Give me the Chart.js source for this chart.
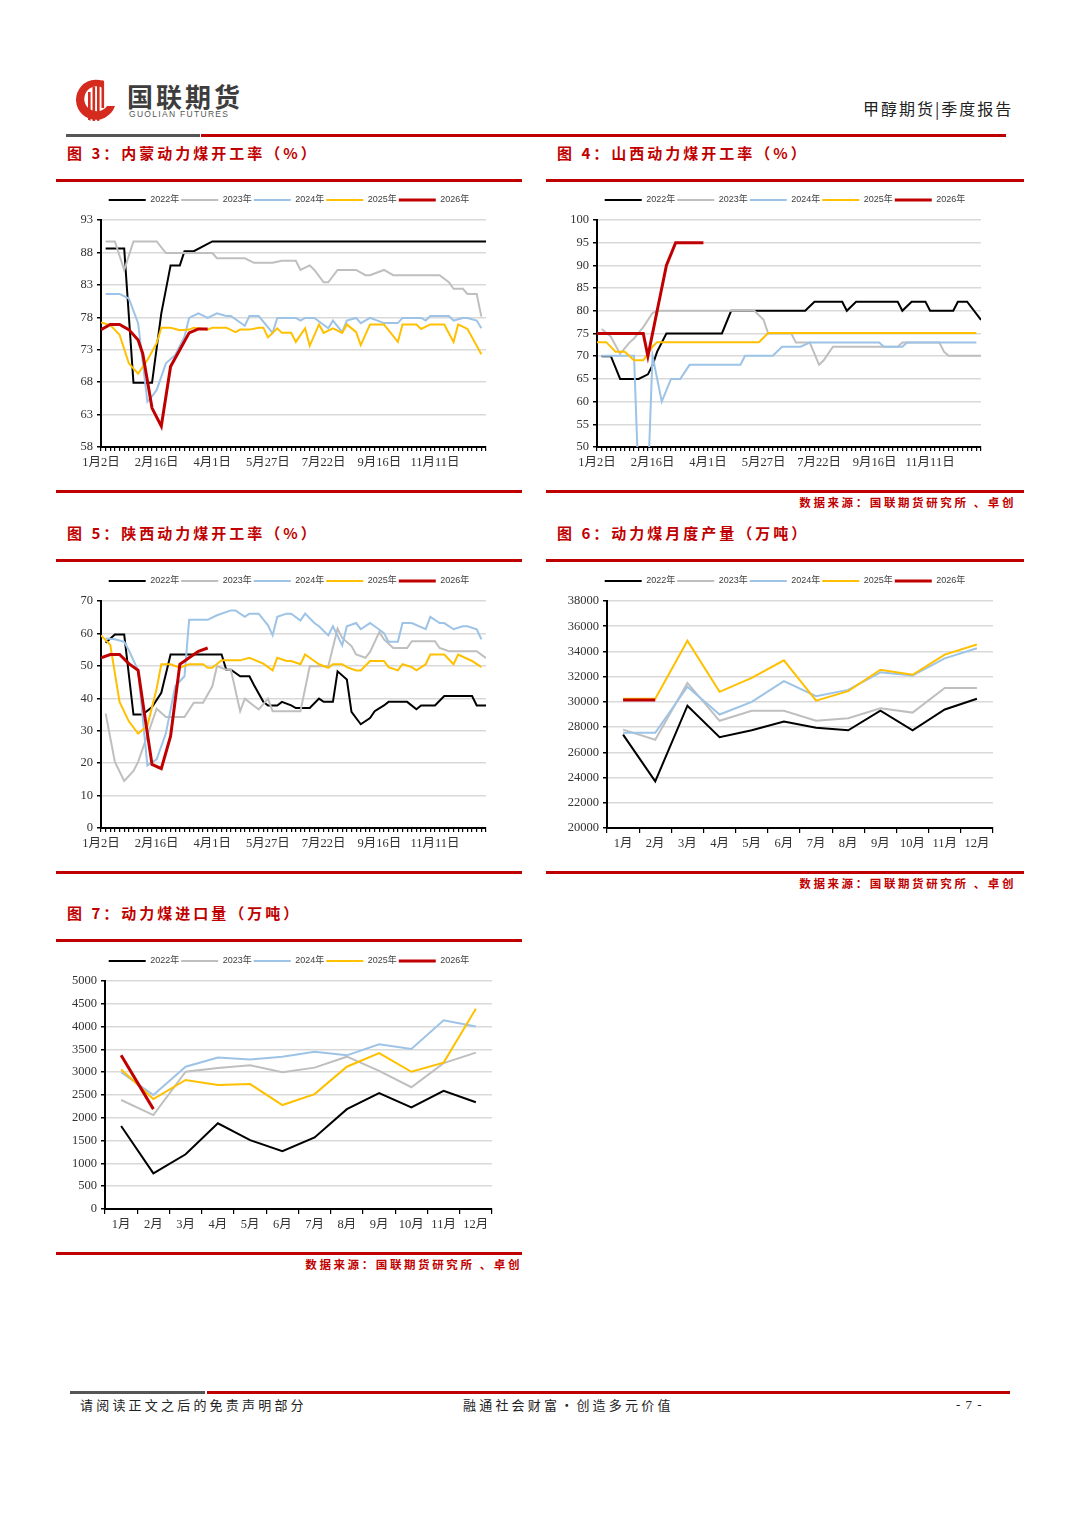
<!DOCTYPE html>
<html lang="zh">
<head>
<meta charset="utf-8">
<title>动力煤开工率与产量</title>
<script src="https://cdn.jsdelivr.net/npm/chart.js@4.4.1/dist/chart.umd.min.js"></script>
<style>
  body { margin: 0; width: 1080px; height: 1528px; background: #fff; position: relative; overflow: hidden;
         font-family: "Noto Sans CJK SC", sans-serif; }
  .abs { position: absolute; white-space: nowrap; }
  .title { position: absolute; color: #c00000; font-size: 15px; font-weight: bold; letter-spacing: 3px;
           line-height: 20px; white-space: nowrap; }
  .rule { position: absolute; height: 3px; background: #c00000; }
  .src { position: absolute; color: #c00000; font-size: 11.5px; font-weight: bold; letter-spacing: 2.6px;
         line-height: 16px; white-space: nowrap; }
  .foot { position: absolute; font-size: 13px; color: #222; letter-spacing: 3.2px; line-height: 18px; white-space: nowrap; }
  canvas { position: absolute; }
</style>
</head>
<body>

<!-- 页眉 -->
<svg class="abs" style="left:72px;top:76px" width="46" height="48" viewBox="0 0 46 48">
  <defs><clipPath id="lg"><circle cx="23" cy="24" r="21"/></clipPath></defs>
  <path d="M31 5 A20 20 0 1 0 43 30 L35 30 A12.5 12.5 0 1 1 31 12 Z" fill="#d52b1e"/>
  <g fill="#d52b1e" clip-path="url(#lg)">
    <rect x="16" y="16" width="2.6" height="30"/>
    <rect x="20.5" y="11" width="2.6" height="35"/>
    <rect x="25" y="6" width="2.6" height="40"/>
    <rect x="29.5" y="2" width="2.6" height="30"/>
  </g>
</svg>
<div class="abs" style="left:127px;top:80px;font-size:26px;font-weight:bold;color:#3d3d3d;letter-spacing:3px;line-height:32px">国联期货</div>
<div class="abs" style="left:129px;top:110px;font-family:'Liberation Sans',sans-serif;font-size:8.5px;color:#555;letter-spacing:1.3px;line-height:9px">GUOLIAN FUTURES</div>
<div class="abs" style="left:863px;top:97px;font-size:16px;color:#222;letter-spacing:2px;line-height:22px">甲醇期货|季度报告</div>
<div class="abs" style="left:66px;top:134px;width:134px;height:3px;background:#555"></div>
<div class="abs" style="left:201px;top:134px;width:805px;height:3px;background:#c00000"></div>

<!-- 第一行 -->
<div class="title" style="left:67px;top:143px">图 3：内蒙动力煤开工率（%）</div>
<div class="title" style="left:557px;top:143px">图 4：山西动力煤开工率（%）</div>
<div class="rule" style="left:56px;top:179px;width:466px"></div>
<div class="rule" style="left:546px;top:179px;width:478px"></div>
<canvas id="c3" width="466" height="290" style="left:56px;top:186px"></canvas>
<canvas id="c4" width="478" height="290" style="left:546px;top:186px"></canvas>
<div class="rule" style="left:56px;top:490px;width:466px"></div>
<div class="rule" style="left:546px;top:490px;width:478px"></div>
<div class="src" style="right:64px;top:494px">数据来源：国联期货研究所 、卓创</div>

<!-- 第二行 -->
<div class="title" style="left:67px;top:523px">图 5：陕西动力煤开工率（%）</div>
<div class="title" style="left:557px;top:523px">图 6：动力煤月度产量（万吨）</div>
<div class="rule" style="left:56px;top:559px;width:466px"></div>
<div class="rule" style="left:546px;top:559px;width:478px"></div>
<canvas id="c5" width="466" height="290" style="left:56px;top:567px"></canvas>
<canvas id="c6" width="478" height="290" style="left:546px;top:567px"></canvas>
<div class="rule" style="left:56px;top:871px;width:466px"></div>
<div class="rule" style="left:546px;top:871px;width:478px"></div>
<div class="src" style="right:64px;top:875px">数据来源：国联期货研究所 、卓创</div>

<!-- 第三行 -->
<div class="title" style="left:67px;top:903px">图 7：动力煤进口量（万吨）</div>
<div class="rule" style="left:56px;top:939px;width:466px"></div>
<canvas id="c7" width="466" height="291" style="left:56px;top:947px"></canvas>
<div class="rule" style="left:56px;top:1252px;width:466px"></div>
<div class="src" style="right:558px;top:1256px">数据来源：国联期货研究所 、卓创</div>

<!-- 页脚 -->
<div class="abs" style="left:70px;top:1391px;width:135px;height:3px;background:#555"></div>
<div class="abs" style="left:207px;top:1391px;width:803px;height:3px;background:#c00000"></div>
<div class="foot" style="left:80px;top:1396px">请阅读正文之后的免责声明部分</div>
<div class="foot" style="left:463px;top:1396px">融通社会财富·创造多元价值</div>
<div class="foot" style="left:956px;top:1396px;font-family:'Liberation Serif',serif;letter-spacing:1px">- 7 -</div>

<script>
const years = ['2022年', '2023年', '2024年', '2025年', '2026年'];
const yearColors = ['#000000', '#bfbfbf', '#9dc3e6', '#ffc000', '#c00000'];
const yearWidths = [2, 2, 2, 2, 3];

// 周度图：横轴为日期序号（共84格，每12格一个标签）
const weekTicks = ['1月2日', '2月16日', '4月1日', '5月27日', '7月22日', '9月16日', '11月11日'];
const months = ['1月', '2月', '3月', '4月', '5月', '6月', '7月', '8月', '9月', '10月', '11月', '12月'];

// 图3 内蒙动力煤开工率 [日期序号, %]
const nmg2022 = [[1,88.6],[5,88.6],[7,67.9],[11,67.9],[13,78.6],[15,86.0],[17,86.0],[18,88.2],[20,88.2],[24,89.7],[83,89.7]];
const nmg2023 = [[1,89.7],[3,89.7],[5,85.3],[7,89.7],[12,89.7],[14,87.9],[24,87.9],[25,87.1],[31,87.1],[33,86.4],[37,86.4],
  [39,86.7],[42,86.7],[43,85.3],[45,86.0],[46,85.3],[48,83.4],[49,83.4],[51,85.3],[55,85.3],[57,84.5],[58,84.5],[61,85.3],
  [63,84.5],[73,84.5],[75,83.4],[76,82.4],[78,82.4],[79,81.6],[81,81.6],[82,78.1]];
const nmg2024 = [[1,81.6],[4,81.6],[6,80.9],[8,77.1],[10,65.0],[11,65.8],[12,66.8],[14,70.9],[16,72.2],[18,75.0],[19,77.9],
  [21,78.6],[23,77.9],[25,78.6],[27,78.2],[28,78.2],[31,76.7],[32,78.2],[34,78.2],[37,75.6],[38,77.9],[42,77.9],[43,77.5],
  [44,77.9],[46,77.9],[49,76.3],[50,77.5],[52,75.7],[53,77.5],[55,77.9],[56,77.1],[58,77.9],[61,77.1],[64,77.1],[65,77.9],
  [69,77.9],[70,77.5],[71,78.2],[75,78.2],[76,77.5],[78,77.9],[79,77.9],[81,77.5],[82,76.3]];
const nmg2025 = [[0,77.2],[2,76.8],[4,75.3],[6,70.9],[8,69.3],[10,71.4],[12,74.0],[13,76.4],[15,76.4],[17,76.0],[19,76.1],
  [20,76.4],[23,76.1],[24,76.4],[27,76.4],[29,75.7],[30,76.1],[32,76.1],[34,76.4],[35,76.4],[36,74.9],[38,76.3],[39,75.6],
  [41,75.6],[42,74.2],[44,76.3],[45,73.6],[47,76.9],[48,75.6],[50,76.3],[52,75.6],[53,76.9],[55,75.7],[56,73.7],[58,76.9],
  [61,76.9],[64,74.2],[65,76.9],[68,76.9],[69,76.2],[71,76.9],[74,76.9],[76,74.2],[77,76.9],[79,76.2],[80,74.9],[82,72.3]];
const nmg2026 = [[0,76.1],[2,76.9],[4,76.9],[6,76.1],[8,74.5],[9,72.4],[11,64.0],[13,61.2],[15,70.4],[17,73.0],[19,75.6],[21,76.2],[23,76.2]];

// 图4 山西动力煤开工率
const sx2022 = [[1,70],[3,70],[5,65],[9,65],[11,66],[12,68],[13,71],[15,75],[27,75],[29,80],[45,80],[47,82],[53,82],[54,80],
  [56,82],[65,82],[66,80],[68,82],[71,82],[72,80],[77,80],[78,82],[80,82],[83,78]];
const sx2023 = [[1,76],[3,74.3],[5,70.5],[7,73],[8,73.9],[10,76.4],[12,79.5],[13,80],[34,80],[36,78],[37,75],[42,75],[43,73],
  [46,73],[48,68.1],[49,69.1],[51,72.1],[65,72.1],[66,73],[74,73],[75,71],[76,70.1],[83,70.1]];
const sx2024 = [[1,70.1],[8,70.1],[9,42],[11,42],[12,70.1],[14,60],[16,65],[18,65],[20,68.1],[31,68.1],[32,70.1],[38,70.1],
  [40,72.1],[44,72.1],[46,73],[61,73],[62,72.1],[66,72.1],[67,73],[82,73]];
const sx2025 = [[0,73.1],[2,73.1],[4,71],[6,71],[8,69.1],[10,69.1],[12,72.1],[13,73.1],[35,73.1],[37,75.1],[82,75.1]];
const sx2026 = [[0,75],[10,75],[11,70],[13,80],[15,90],[17,95],[23,95]];

// 图5 陕西动力煤开工率
const shx2022 = [[1,57.1],[3,59.7],[5,59.7],[7,35],[9,35],[11,37.3],[13,41.7],[15,53.5],[26,53.5],[27,48.8],[28,48.8],[30,46.8],
  [32,46.8],[33,44],[35,38.9],[36,37.8],[38,37.8],[39,38.9],[41,37.8],[42,37],[45,37],[47,39.9],[48,38.9],[50,38.9],[51,48.3],
  [53,45.8],[54,35.8],[56,32],[58,33.9],[59,36],[61,37.8],[62,38.9],[66,38.9],[68,36.6],[69,37.8],[72,37.8],[74,40.7],[80,40.7],
  [81,37.8],[83,37.8]];
const shx2023 = [[1,35.3],[3,20.4],[5,14.5],[7,17.6],[8,20.4],[12,36.8],[14,34.2],[18,34.2],[20,38.6],[22,38.6],[24,43.7],
  [25,49.9],[27,48.8],[28,48.8],[30,36],[31,39.9],[33,37.6],[34,36.6],[36,39.9],[37,36],[43,36],[45,49.9],[49,49.9],[51,61.5],
  [52,58.6],[54,56.1],[55,53.5],[57,52.5],[58,54.3],[60,60.4],[61,58.2],[63,55.5],[66,55.5],[67,57.6],[72,57.6],[73,55.5],
  [75,54.5],[81,54.5],[83,52.4]];
const shx2024 = [[1,58.4],[3,58.2],[5,57.4],[6,54.8],[8,48.6],[10,19.3],[12,21.2],[14,29.3],[16,43.7],[18,46.8],[19,64.2],
  [23,64.2],[25,65.6],[28,67.1],[29,67.1],[31,65.1],[32,66.1],[34,66.1],[36,62.5],[37,59.4],[38,65.1],[40,66.1],[41,66.1],
  [43,64],[44,66.1],[46,63.2],[47,62.2],[49,59.4],[50,62.2],[52,56.3],[53,62.2],[55,63.2],[56,61.3],[58,63.2],[59,62.2],
  [61,60.1],[62,57.4],[64,57.4],[65,63.2],[67,63.2],[70,61.3],[71,65.1],[73,63.2],[74,63.2],[76,61.3],[78,62.2],[79,62.2],
  [81,61.3],[82,58.2]];
const shx2025 = [[0,59.4],[2,56.5],[4,38.9],[6,32.9],[8,29.1],[10,31.5],[12,43],[13,50.5],[15,50.5],[17,49.4],[19,50.5],
  [22,50.5],[23,49.4],[24,49.4],[26,51.7],[30,51.7],[32,52.5],[35,50.7],[37,48.6],[38,52.5],[40,51.5],[41,51.5],[43,50.5],
  [44,53.5],[46,51.5],[47,50.5],[49,49.4],[50,50.5],[52,50.5],[53,49.6],[55,48.6],[56,48.6],[58,51.5],[61,51.5],[62,49.6],
  [64,48.6],[65,50.5],[67,49.6],[68,48.6],[70,50.5],[71,53.5],[74,53.5],[76,50.5],[77,53.5],[80,51.5],[82,49.6]];
const shx2026 = [[0,52.5],[2,53.5],[4,53.5],[6,50.7],[8,48.6],[10,29.1],[11,19.6],[13,18.3],[15,28.3],[17,50.5],[19,52.5],[21,54.5],[23,55.5]];

// 图6 动力煤月度产量（万吨）
const prod2022 = [27400, 23700, 29700, 27200, 27750, 28450, 27950, 27750, 29300, 27750, 29400, 30250];
const prod2023 = [27800, 27000, 31500, 28500, 29300, 29300, 28500, 28700, 29500, 29150, 31100, 31100];
const prod2024 = [27550, 27550, 31200, 29000, 30000, 31650, 30450, 30950, 32350, 32100, 33450, 34250];
const prod2025 = [30250, 30250, 34850, 30800, 31900, 33300, 30100, 30850, 32550, 32150, 33750, 34550];
const prod2026 = [30150, 30150];

// 图7 动力煤进口量（万吨）
const imp2022 = [1820, 780, 1200, 1880, 1510, 1270, 1570, 2190, 2540, 2230, 2590, 2340];
const imp2023 = [2390, 2060, 3010, 3090, 3150, 3000, 3100, 3340, 3030, 2670, 3200, 3430];
const imp2024 = [3000, 2500, 3120, 3320, 3280, 3340, 3450, 3370, 3610, 3510, 4140, 4000];
const imp2025 = [3060, 2410, 2830, 2720, 2740, 2280, 2520, 3120, 3420, 3010, 3210, 4390];
const imp2026 = [3370, 2190];

const serif = '"Liberation Serif", "Noto Sans CJK SC", serif';
const sans = '"Liberation Sans", "Noto Sans CJK SC", sans-serif';

// 图例高度固定，并在整块画布上居中
const legendBand = {
    id: 'legendBand',
    afterInit(chart) {
        const legend = chart.legend;
        const fit = legend.fit;
        legend.fit = function () {
            fit.call(this);
            this.height = 26.5;
        };
    },
    afterLayout(chart) {
        chart.legend.left = 0;
        chart.legend.right = chart.width;
    }
};

function makeDatasets(series, weekly) {
    return series.map(function (d, i) {
        return {
            label: years[i],
            data: weekly ? d.map(p => ({ x: p[0], y: p[1] })) : d,
            borderColor: yearColors[i],
            backgroundColor: yearColors[i],
            borderWidth: yearWidths[i],
            pointRadius: 0,
            tension: 0,
            order: 4 - i
        };
    });
}

function drawChart(id, series, cfg) {
    const tickFont = { family: serif, size: 12.5 };
    let xScale;
    if (cfg.weekly) {
        xScale = {
            type: 'linear', min: 0, max: 83,
            afterFit: s => { s.height = 29; },
            border: { color: '#000', width: 2 },
            grid: { drawOnChartArea: false, color: '#000', lineWidth: 1.2, tickLength: 4 },
            ticks: {
                stepSize: 1, autoSkip: false, maxTicksLimit: 200, maxRotation: 0, padding: 4,
                color: '#333', font: tickFont,
                callback: v => (v % 12 === 0 && weekTicks[v / 12]) ? weekTicks[v / 12] : ''
            }
        };
    } else {
        xScale = {
            type: 'category', offset: true,
            afterFit: s => { s.height = 29; },
            border: { color: '#000', width: 2 },
            grid: { offset: true, drawOnChartArea: false, color: '#000', lineWidth: 1.2, tickLength: 5 },
            ticks: { autoSkip: false, maxRotation: 0, padding: 3, color: '#333', font: tickFont }
        };
    }

    new Chart(document.getElementById(id), {
        type: 'line',
        data: {
            labels: cfg.weekly ? undefined : months,
            datasets: makeDatasets(series, cfg.weekly)
        },
        options: {
            responsive: false,
            animation: false,
            layout: { padding: { top: 7.5, right: cfg.padRight, left: 0, bottom: 0 } },
            plugins: {
                legend: {
                    position: 'top',
                    labels: {
                        usePointStyle: true, pointStyle: 'line', pointStyleWidth: 37, padding: 2,
                        color: '#404040', font: { family: sans, size: 9 },
                        sort: (a, b) => a.datasetIndex - b.datasetIndex
                    }
                },
                tooltip: { enabled: false }
            },
            scales: {
                x: xScale,
                y: {
                    min: cfg.min, max: cfg.max,
                    afterFit: s => { s.width = cfg.yWidth; },
                    border: { color: '#000', width: 2 },
                    grid: { color: '#d9d9d9', lineWidth: 1.5, tickColor: '#000', tickLength: 4 },
                    ticks: { stepSize: cfg.step, padding: 4, color: '#333', font: tickFont, callback: v => String(v) }
                }
            }
        },
        plugins: [legendBand]
    });
}

drawChart('c3', [nmg2022, nmg2023, nmg2024, nmg2025, nmg2026],
    { weekly: true, min: 58, max: 93, step: 5, yWidth: 45, padRight: 36 });
drawChart('c4', [sx2022, sx2023, sx2024, sx2025, sx2026],
    { weekly: true, min: 50, max: 100, step: 5, yWidth: 51, padRight: 43 });
drawChart('c5', [shx2022, shx2023, shx2024, shx2025, shx2026],
    { weekly: true, min: 0, max: 70, step: 10, yWidth: 45, padRight: 36 });
drawChart('c6', [prod2022, prod2023, prod2024, prod2025, prod2026],
    { weekly: false, min: 20000, max: 38000, step: 2000, yWidth: 61, padRight: 31 });
drawChart('c7', [imp2022, imp2023, imp2024, imp2025, imp2026],
    { weekly: false, min: 0, max: 5000, step: 500, yWidth: 49, padRight: 30 });
</script>
</body>
</html>
